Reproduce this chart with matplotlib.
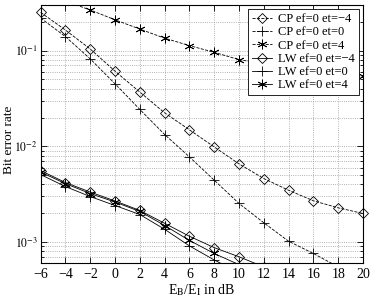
import numpy as np
import matplotlib
matplotlib.use('Agg')
import matplotlib.pyplot as plt

plt.rcParams['font.family'] = ['Liberation Serif', 'DejaVu Serif']
plt.rcParams['mathtext.fontset'] = 'stix'

snr = [-6, -4, -2, 0, 2, 4, 6, 8, 10, 12, 14, 16, 18, 20]

# CP curves (dashed)
cp_m4 = [0.251, 0.164, 0.104, 0.061, 0.0369, 0.0224, 0.0149, 0.00986,
         0.00656, 0.00461, 0.00348, 0.0027, 0.00228, 0.00199]
cp_0 = [0.219, 0.14, 0.082, 0.045, 0.0243, 0.0133, 0.00776, 0.00443,
        0.00253, 0.00159, 0.00102, 0.00076, 0.00055, 0.0004]
cp_4 = [0.40, 0.33, 0.266, 0.21, 0.168, 0.135, 0.113, 0.096,
        0.0806, 0.073, 0.066, 0.061, 0.057, 0.054]

# LW curves (solid)
lw_snr = [-6, -4, -2, 0, 2, 4, 6, 8, 10, 12]
lw_m4 = [0.00558, 0.00419, 0.00333, 0.00269, 0.00214, 0.00157, 0.00115,
         0.000875, 0.000702, 0.00055]
lw_0 = [0.00507, 0.0038, 0.00299, 0.00241, 0.00194, 0.00136, 0.000912,
        0.00065, 0.00048, 0.00036]
lw_4 = [0.00538, 0.00408, 0.00321, 0.00262, 0.00209, 0.00149, 0.00104,
        0.00076, 0.00058, 0.00044]

labels = ['CP ef=0 et=\u22124', 'CP ef=0 et=0', 'CP ef=0 et=4',
          'LW ef=0 et=\u22124', 'LW ef=0 et=0', 'LW ef=0 et=4']

star = (6, 2, 0)

fig = plt.figure(figsize=(3.74, 2.98), dpi=100)
ax = fig.add_axes([0.1088, 0.1164, 0.8618, 0.8668])

kw = dict(color='k', lw=0.6, mfc='none', mec='k', mew=0.6)
ax.semilogy(snr, cp_m4, '--', marker='D', ms=5, label=labels[0], clip_on=False, **kw)
ax.semilogy(snr, cp_0, '--', marker='+', ms=7, label=labels[1], **kw)
ax.semilogy(snr, cp_4, '--', marker=star, ms=7, label=labels[2], **kw)
ax.semilogy(lw_snr, lw_m4, '-', marker='D', ms=5, label=labels[3], **kw)
ax.semilogy(lw_snr, lw_0, '-', marker='+', ms=7, label=labels[4], **kw)
ax.semilogy(lw_snr, lw_4, '-', marker=star, ms=7, label=labels[5], **kw)

ax.set_xlim(-6, 20)
ax.set_ylim(6e-4, 0.3)
ax.set_xticks(np.arange(-6, 21, 2))
ax.set_xticklabels([str(v).replace('-', '\u2212') for v in range(-6, 21, 2)])
ax.set_yticks([1e-3, 1e-2, 1e-1])
ax.set_yticklabels([r'$10^{-3}$', r'$10^{-2}$', r'$10^{-1}$'])

ax.grid(True, which='major', ls=':', color='0.6', lw=0.6)
ax.grid(True, which='minor', axis='y', ls=':', color='0.6', lw=0.6)
ax.tick_params(which='both', direction='in', top=True, right=True,
               labelsize=10, width=0.6)
ax.tick_params(axis='y', which='major', labelsize=8.5, pad=2)
ax.tick_params(which='major', length=4)
ax.tick_params(which='minor', length=2)
for s in ax.spines.values():
    s.set_linewidth(0.8)

ax.set_xlabel(r'E$_\mathrm{B}$/E$_\mathrm{I}$ in dB', fontsize=10, labelpad=1)
ax.set_ylabel('Bit error rate', fontsize=9.5)
ax.yaxis.set_label_coords(-0.08, 0.48)

leg = ax.legend(loc='upper right', fontsize=9, handlelength=1.6,
                handletextpad=0.5, borderpad=0.3, labelspacing=0.1,
                fancybox=False, framealpha=1, edgecolor='k',
                borderaxespad=0.35)
leg.get_frame().set_linewidth(0.6)

fig.savefig('out.png', dpi=100)
